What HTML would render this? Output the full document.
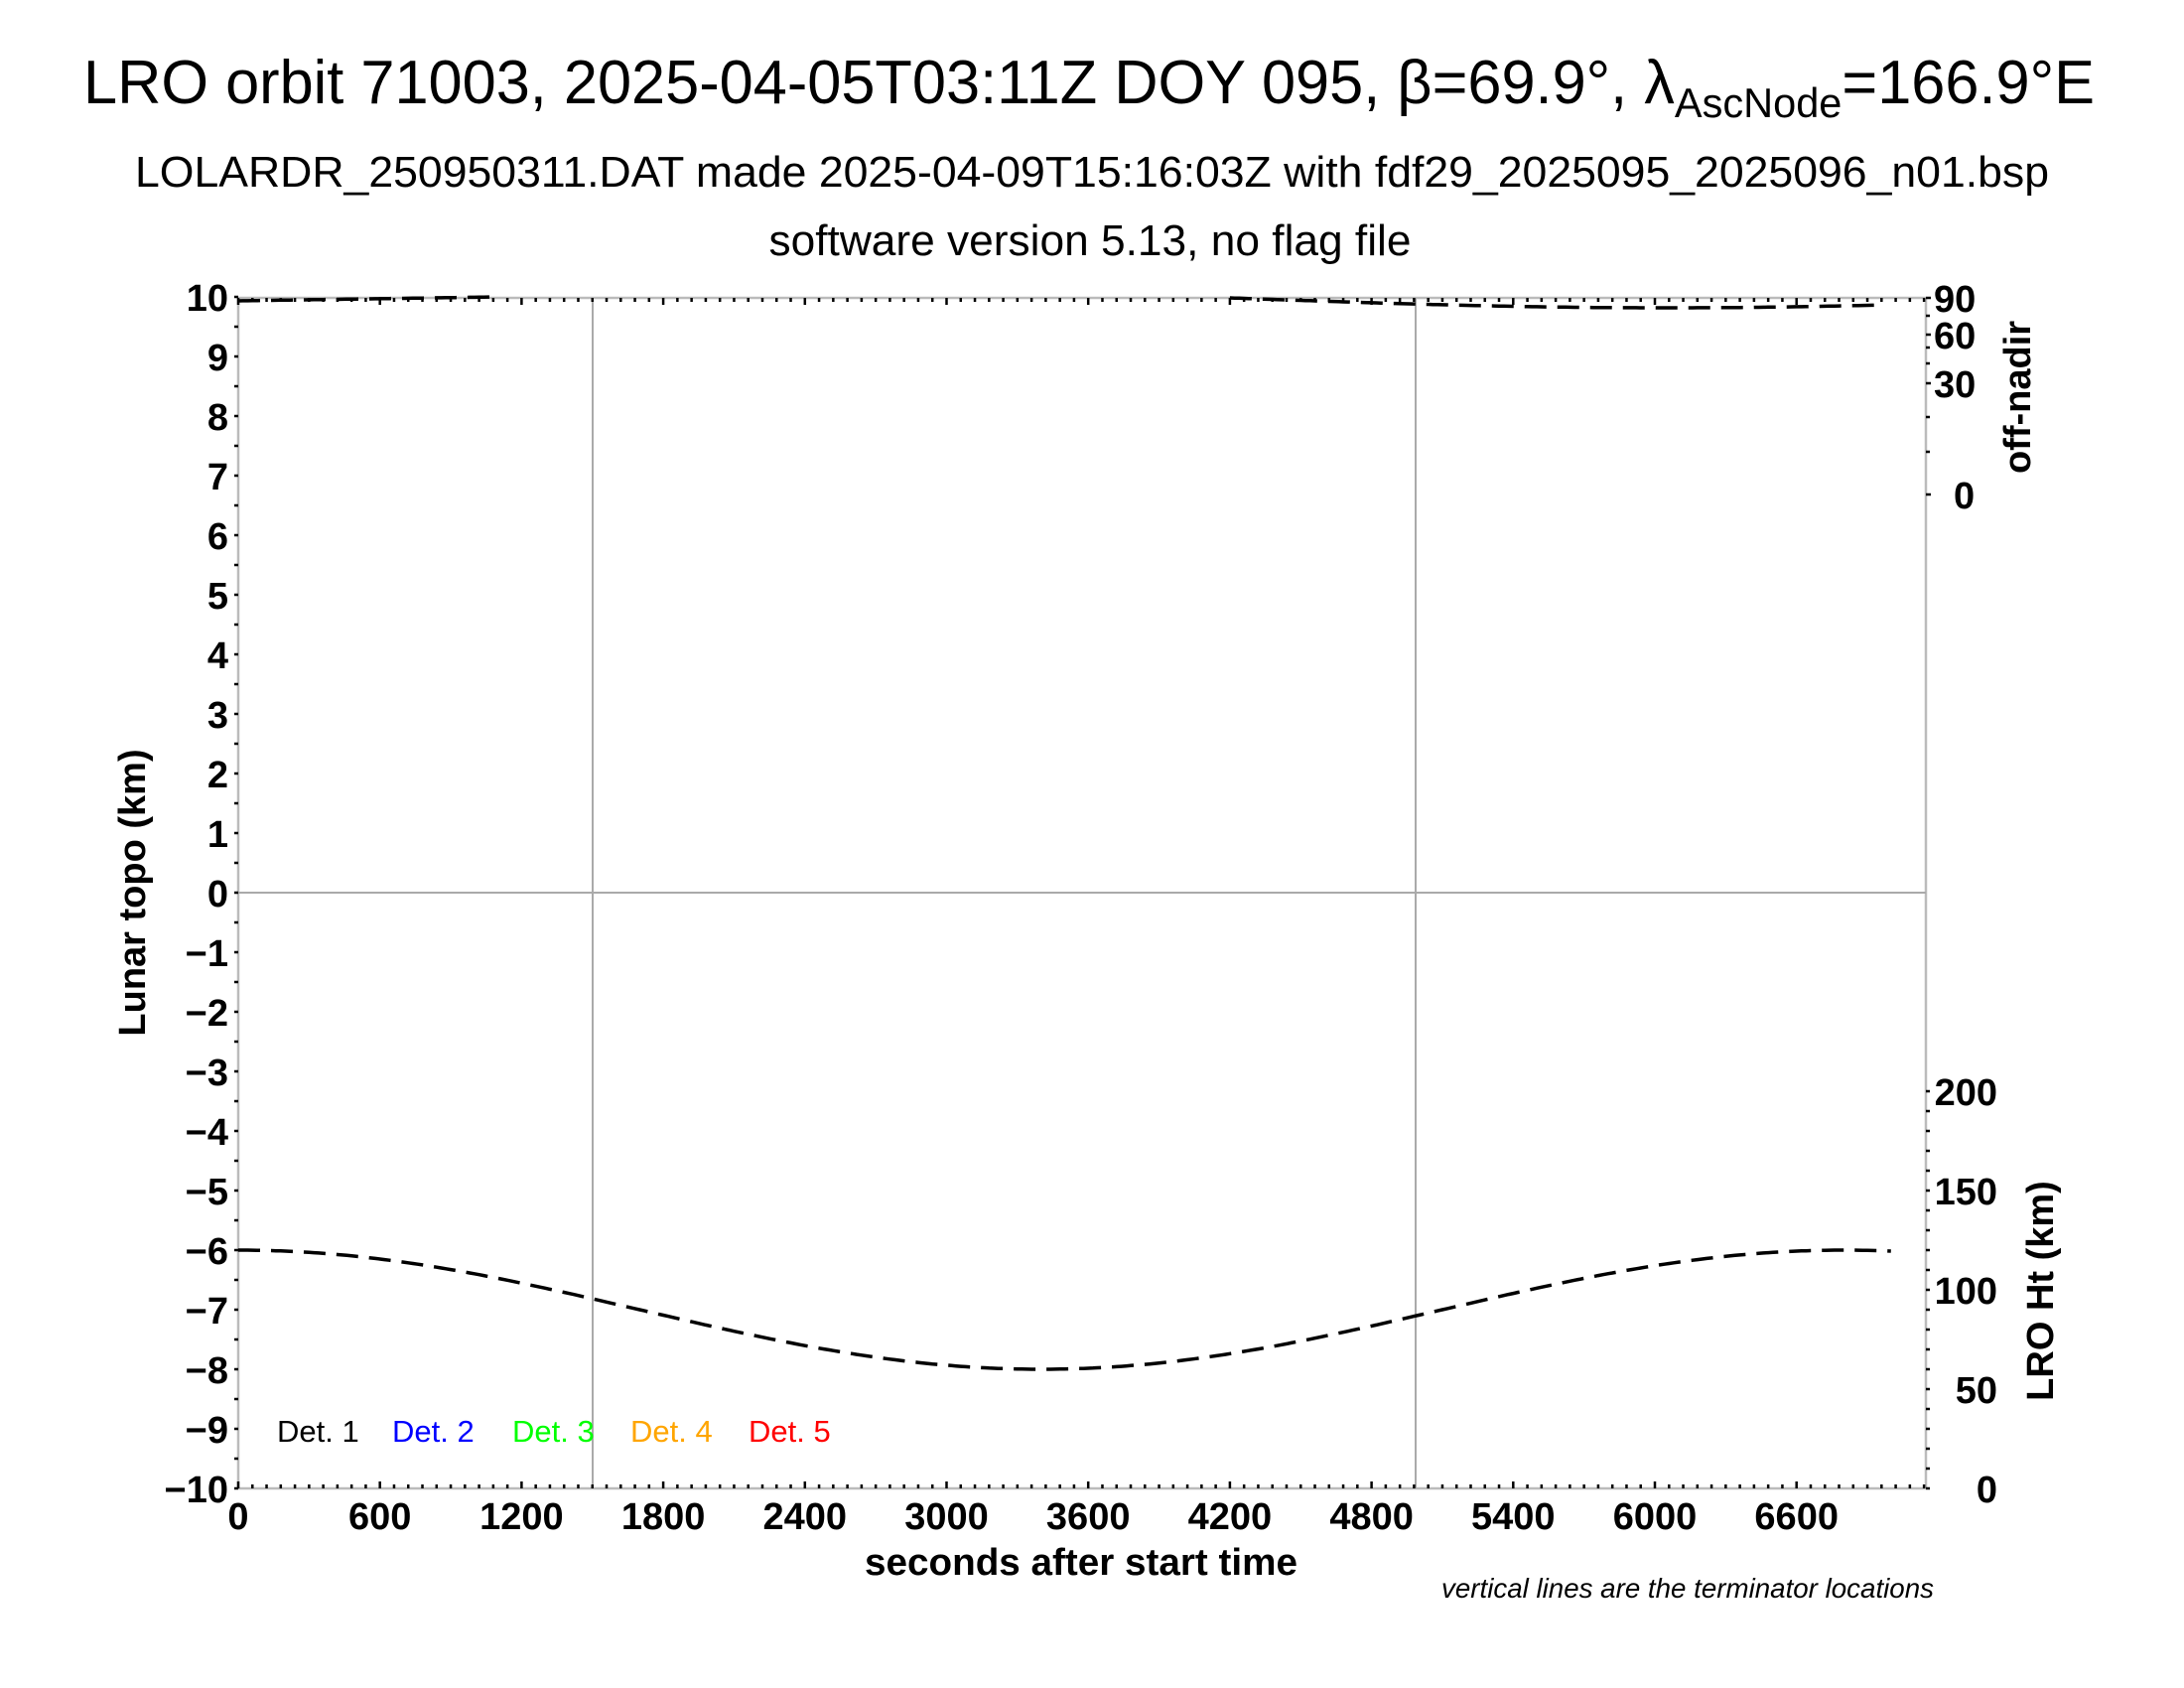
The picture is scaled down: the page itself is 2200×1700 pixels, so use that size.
<!DOCTYPE html>
<html><head><meta charset="utf-8"><style>
html,body{margin:0;padding:0;background:#fff;}
svg{display:block;font-family:"Liberation Sans",sans-serif;}
</style></head><body>
<svg id="s" xmlns="http://www.w3.org/2000/svg" width="2200" height="1700" viewBox="0 0 2200 1700">
<rect width="2200" height="1700" fill="#fff"/>
<text x="1097" y="104" font-size="62" text-anchor="middle" textLength="2026" lengthAdjust="spacingAndGlyphs">LRO orbit 71003, 2025-04-05T03:11Z DOY 095, β=69.9°, λ<tspan font-size="42" dy="14">AscNode</tspan><tspan dy="-14">=166.9°E</tspan></text>
<text x="1100" y="188" font-size="44" text-anchor="middle" textLength="1928" lengthAdjust="spacingAndGlyphs">LOLARDR_250950311.DAT made 2025-04-09T15:16:03Z with fdf29_2025095_2025096_n01.bsp</text>
<text x="1098" y="257" font-size="44" text-anchor="middle" textLength="647" lengthAdjust="spacingAndGlyphs">software version 5.13, no flag file</text>
<g id="g"></g>
<text x="1089" y="1586" font-size="38" font-weight="bold" text-anchor="middle" textLength="436" lengthAdjust="spacingAndGlyphs">seconds after start time</text>
<text transform="translate(146,899) rotate(-90)" font-size="38" font-weight="bold" text-anchor="middle">Lunar topo (km)</text>
<text transform="translate(2045,400) rotate(-90)" font-size="38" font-weight="bold" text-anchor="middle">off-nadir</text>
<text transform="translate(2068,1300) rotate(-90)" font-size="38" font-weight="bold" text-anchor="middle">LRO Ht (km)</text>
<text x="1948" y="1609" font-size="28" font-style="italic" text-anchor="end" textLength="496" lengthAdjust="spacingAndGlyphs">vertical lines are the terminator locations</text>
<g font-size="31">
<text x="279" y="1452" fill="#000">Det. 1</text>
<text x="395" y="1452" fill="#0000ff">Det. 2</text>
<text x="516" y="1452" fill="#00ff00">Det. 3</text>
<text x="635" y="1452" fill="#ffa500">Det. 4</text>
<text x="754" y="1452" fill="#ff0000">Det. 5</text>
</g>
</svg>
<script>
(function(){
var NS="http://www.w3.org/2000/svg",g=document.getElementById("g");
function el(n,a,t){var e=document.createElementNS(NS,n);for(var k in a)e.setAttribute(k,a[k]);if(t!=null)e.textContent=t;g.appendChild(e);return e;}
var L=240,R=1940,T=300,B=1499,px=142.7/600;
function X(t){return L+t*px;}function Y(v){return 899-v*60;}
el("line",{x1:L,y1:T,x2:R,y2:T,stroke:"#bbb","stroke-width":2.5});
el("line",{x1:L,y1:B,x2:R,y2:B,stroke:"#bbb","stroke-width":2.5});
el("line",{x1:L,y1:T,x2:L,y2:B,stroke:"#bbb","stroke-width":2.5});
el("line",{x1:R,y1:T,x2:R,y2:B,stroke:"#bbb","stroke-width":2.5});
el("line",{x1:L,y1:899,x2:R,y2:899,stroke:"#aaa","stroke-width":2});
[597,1426].forEach(function(x){el("line",{x1:x,y1:T,x2:x,y2:B,stroke:"#aaa","stroke-width":2});});
var FS=38;
for(var v=-10;v<=10;v+=0.5){var y=Y(v),maj=(v%1===0);
 el("line",{x1:L-4,y1:y,x2:L,y2:y,stroke:"#000","stroke-width":2.5});
 if(maj) el("text",{x:230,y:y+14,"font-size":FS,"font-weight":"bold","text-anchor":"end"},(v<0?"\u2212":"")+Math.abs(v));}
for(var t=0;X(t)<=R+1;t+=60){var x=X(t),maj=(t%600===0);
 el("line",{x1:x,y1:B,x2:x,y2:B-(maj?7:4),stroke:"#000","stroke-width":2.5});
 el("line",{x1:x,y1:T,x2:x,y2:T+(maj?7:4),stroke:"#000","stroke-width":2.5});
 if(maj&&t<=6600) el("text",{x:x,y:1540,"font-size":FS,"font-weight":"bold","text-anchor":"middle"},String(t));}
[[90,300],[60,337],[30,386],[0,498]].forEach(function(a){
 el("line",{x1:R,y1:a[1],x2:R+5,y2:a[1],stroke:"#000","stroke-width":2.5});
 el("text",{x:a[0]?1948:1968,y:a[1]+14,"font-size":FS,"font-weight":"bold"},String(a[0]));});
[318,350,366,420,455].forEach(function(y){el("line",{x1:R,y1:y,x2:R+4,y2:y,stroke:"#000","stroke-width":2.5});});
for(var h=0;h<=200;h+=10){var y=B-h*2;
 el("line",{x1:R,y1:y,x2:R+4,y2:y,stroke:"#000","stroke-width":2.5});
 if(h%50===0) el("text",{x:2012,y:y+14,"font-size":FS,"font-weight":"bold","text-anchor":"end"},String(h));}
var d="";for(var t=0;t<=7000;t+=20){var v=-7+Math.cos(2*Math.PI*t/6800);d+=(t?"L":"M")+X(t).toFixed(1)+","+Y(v).toFixed(1);}
el("path",{d:d,fill:"none",stroke:"#000","stroke-width":3.5,"stroke-dasharray":"22 11"});
var d1="";for(var t=0;t<=1100;t+=20){var y=303-4*t/1100;d1+=(t?"L":"M")+X(t).toFixed(1)+","+y.toFixed(1);}
el("path",{d:d1,fill:"none",stroke:"#000","stroke-width":3.5,"stroke-dasharray":"22 11"});
var d2="";for(var t=4200;t<=6940;t+=20){var y=300+10*Math.sin(Math.PI*(t-4200)/3700);d2+=(t>4200?"L":"M")+X(t).toFixed(1)+","+y.toFixed(1);}
el("path",{d:d2,fill:"none",stroke:"#000","stroke-width":3.5,"stroke-dasharray":"22 11"});
})();
</script>
</body></html>
